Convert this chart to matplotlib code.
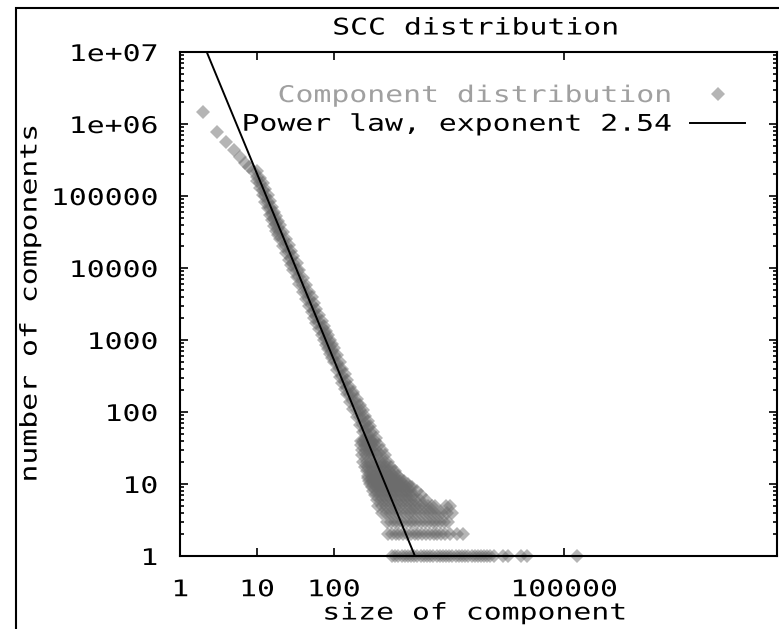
import numpy as np
import matplotlib
matplotlib.use('Agg')
import matplotlib.pyplot as plt
from matplotlib.patches import Rectangle
from matplotlib.patheffects import AbstractPathEffect
from matplotlib.transforms import Affine2D
from matplotlib.ticker import LogLocator, NullLocator, NullFormatter

# small components, one point per size
head_sizes = [2, 3, 4, 5, 6, 7, 8, 9]
head_counts = [1480000, 780000, 570000, 430000, 350000, 290000, 250000, 220000]

# main body, read as a centre value plus upper / lower edge of the band
body_sizes = [10, 11, 12, 13, 14, 15, 16, 17, 18, 19, 20, 22, 24, 26, 28, 30,
              33, 36, 40, 44, 48, 52, 56, 60, 65, 70, 75, 80, 85, 90, 95, 100,
              110, 120, 130, 140, 150, 165, 180, 200, 220, 240, 260, 280, 300]
body_mid = [185000, 150000, 122000, 100000, 83000, 68000, 56000, 48000, 41000,
            36000, 31500, 25000, 20000, 16500, 13800, 11700, 9300, 7500, 5800,
            4600, 3750, 3080, 2560, 2160, 1780, 1480, 1250, 1070, 920, 800, 700,
            615, 485, 390, 318, 265, 222, 174, 140, 106, 84, 67, 54, 48, 41]
body_hi = [225000, 180000, 150000, 124000, 103000, 85000, 71000, 60000, 52000,
           45000, 40000, 31500, 25500, 21000, 17500, 14800, 11800, 9500, 7300,
           5800, 4700, 3900, 3250, 2700, 2250, 1850, 1580, 1350, 1160, 1000, 880,
           780, 610, 490, 400, 335, 280, 220, 178, 135, 108, 86, 70, 62, 53]
body_lo = [160000, 128000, 102000, 83000, 68000, 55000, 46000, 38500, 33000,
           29000, 25000, 20000, 16000, 13000, 11000, 9300, 7400, 6000, 4600,
           3700, 3000, 2450, 2050, 1720, 1420, 1180, 1000, 850, 740, 640, 560,
           490, 385, 310, 255, 210, 176, 138, 110, 84, 66, 52, 42, 36, 31]

# outer right edge of the band where it starts to fan out
edge_sizes = [180, 200, 220, 240, 260, 280, 300, 330, 360]
edge_counts = [190, 150, 125, 105, 88, 75, 64, 52, 44]

# tail: sizes observed at each small count
tail_counts = [40, 35, 30, 25, 20, 17, 15, 13, 12, 11, 10, 9, 8, 7, 6, 5, 4, 3, 2, 1]
tail_sizes = [
    [225, 245, 268, 290, 318, 350],
    [230, 255, 280, 310, 345, 390],
    [236, 262, 290, 320, 360, 425],
    [238, 265, 295, 330, 370, 415, 465],
    [245, 270, 300, 335, 375, 420, 470, 510],
    [258, 285, 320, 355, 400, 450, 500, 560],
    [270, 300, 335, 375, 420, 470, 525, 590, 630],
    [280, 315, 350, 395, 440, 490, 550, 610, 690],
    [285, 320, 360, 405, 450, 505, 565, 640, 735],
    [290, 330, 370, 415, 465, 520, 585, 655, 740, 830],
    [300, 340, 380, 425, 475, 530, 595, 670, 750, 840, 935],
    [315, 355, 400, 445, 500, 560, 625, 700, 785, 880, 1000, 1060],
    [330, 370, 415, 465, 520, 580, 650, 730, 820, 920, 1030, 1230],
    [350, 395, 440, 495, 555, 620, 695, 780, 870, 980, 1100, 1400],
    [370, 415, 465, 520, 585, 655, 735, 820, 920, 1030, 1160, 1350, 1620],
    [385, 430, 485, 540, 605, 680, 760, 850, 955, 1070, 1200, 1350, 1510,
     1700, 1900, 2100, 2900, 3300],
    [430, 480, 540, 600, 675, 755, 845, 950, 1060, 1190, 1340, 1500, 1680,
     1880, 2100, 2350, 2600, 3000, 3500],
    [500, 560, 625, 700, 785, 880, 985, 1100, 1240, 1390, 1550, 1740, 1950,
     2180, 2450, 2750, 3100],
    [515, 575, 645, 720, 810, 905, 1015, 1140, 1275, 1430, 1600, 1790, 2010,
     2250, 2520, 2820, 3300, 4100, 4900],
    [580, 640, 700, 770, 850, 930, 1030, 1130, 1240, 1370, 1500, 1650, 1820,
     2000, 2200, 2420, 2660, 2930, 3220, 3540, 3900, 4290, 4720, 5190, 5710,
     6280, 6900, 7600, 8360, 9200, 10100, 11100, 12200, 16000, 18500, 27500,
     33000, 150000],
]

# fitted power law, exponent 2.54 (ends as drawn on the plot)
fit_x = [2.23, 1150]
fit_y = [1e7, 1]

x_ticks = [1, 10, 100, 100000]
x_labels = ['1', '10', '100', '100000']
y_ticks = [1, 10, 100, 1000, 10000, 100000, 1e6, 1e7]
y_labels = ['1', '10', '100', '1000', '10000', '100000', '1e+06', '1e+07']


class StretchX(AbstractPathEffect):
    # widen glyphs along the text direction, gnuplot's font is wide
    def __init__(self, sx, anchor='center'):
        super().__init__()
        self.sx = sx
        self.anchor = anchor

    def draw_path(self, renderer, gc, tpath, affine, rgbFace=None):
        ext = tpath.get_extents()
        if self.anchor == 'right':
            a = ext.x1
        elif self.anchor == 'left':
            a = 0
        else:
            a = ext.x1 / 2
        pre = Affine2D().translate(-a, 0).scale(self.sx, 1).translate(a, 0)
        renderer.draw_path(gc, tpath, pre + affine, rgbFace)


def main():
    plt.rcParams['font.family'] = ['DejaVu Sans Mono']
    fs = 16.5
    sx = 1.3

    fig = plt.figure(figsize=(7.79, 6.29), dpi=100)
    ax = fig.add_axes([180 / 779, 1 - 556 / 629, 597 / 779, 504 / 629])

    xs = head_sizes + body_sizes * 3 + edge_sizes
    ys = head_counts + body_mid + body_hi + body_lo + edge_counts
    for c, row in zip(tail_counts, tail_sizes):
        xs = xs + row
        ys = ys + [c] * len(row)

    ax.plot(xs, ys, linestyle='none', marker='D', markersize=7.5,
            markerfacecolor='#6c6c6c', markeredgewidth=0, alpha=0.5,
            clip_on=False, label='Component distribution', zorder=2)
    ax.plot(fit_x, fit_y, color='black', lw=1.4, zorder=3,
            label='Power law, exponent 2.54')

    ax.set_xscale('log')
    ax.set_yscale('log')
    ax.set_xlim(1, 6e7)
    ax.set_ylim(1, 1e7)

    ax.set_xticks(x_ticks, x_labels)
    ax.set_yticks(y_ticks, y_labels)
    ax.xaxis.set_minor_locator(NullLocator())
    ax.yaxis.set_minor_locator(LogLocator(base=10, subs=np.arange(2, 10)))
    ax.yaxis.set_minor_formatter(NullFormatter())
    ax.tick_params(which='both', direction='in', top=True, right=True,
                   labelsize=fs, width=1.2)
    ax.tick_params(which='major', length=6)
    ax.tick_params(which='minor', length=3)
    ax.tick_params(axis='y', pad=16)
    ax.tick_params(axis='x', pad=16)
    for s in ax.spines.values():
        s.set_linewidth(1.5)

    for t in ax.get_yticklabels():
        t.set_path_effects([StretchX(sx, 'right')])
    for t in ax.get_xticklabels():
        t.set_path_effects([StretchX(sx)])

    ax.set_xlabel('size of component', fontsize=fs)
    ax.xaxis.set_label_coords((474 - 180) / 597, (556 - 613) / 504)
    ax.xaxis.label.set_va('center')
    ax.xaxis.label.set_path_effects([StretchX(sx)])
    ax.set_ylabel('number of components', fontsize=fs, va='center')
    ax.yaxis.set_label_coords((30 - 180) / 597, 0.5)
    ax.yaxis.label.set_path_effects([StretchX(sx)])
    ax.text((475 - 180) / 597, (556 - 28) / 504, 'SCC distribution',
            transform=ax.transAxes, fontsize=fs, ha='center', va='center',
            path_effects=[StretchX(sx)])

    leg = ax.legend(loc='upper right',
                    bbox_to_anchor=((745 - 180) / 597, (556 - 84) / 504),
                    frameon=False, markerfirst=False, fontsize=fs, numpoints=1,
                    handlelength=2.4, handletextpad=0.85, labelspacing=0.25,
                    borderpad=0, borderaxespad=0,
                    labelcolor=['#a0a0a0', 'black'])
    for t in leg.get_texts():
        t.set_path_effects([StretchX(sx, 'right')])

    fig.add_artist(Rectangle((16 / 779, -0.05), 1.1, 1.05 - 8 / 629,
                             transform=fig.transFigure, fill=False,
                             lw=1.5, edgecolor='black'))

    fig.savefig('out.png', dpi=100)


if __name__ == '__main__':
    main()
